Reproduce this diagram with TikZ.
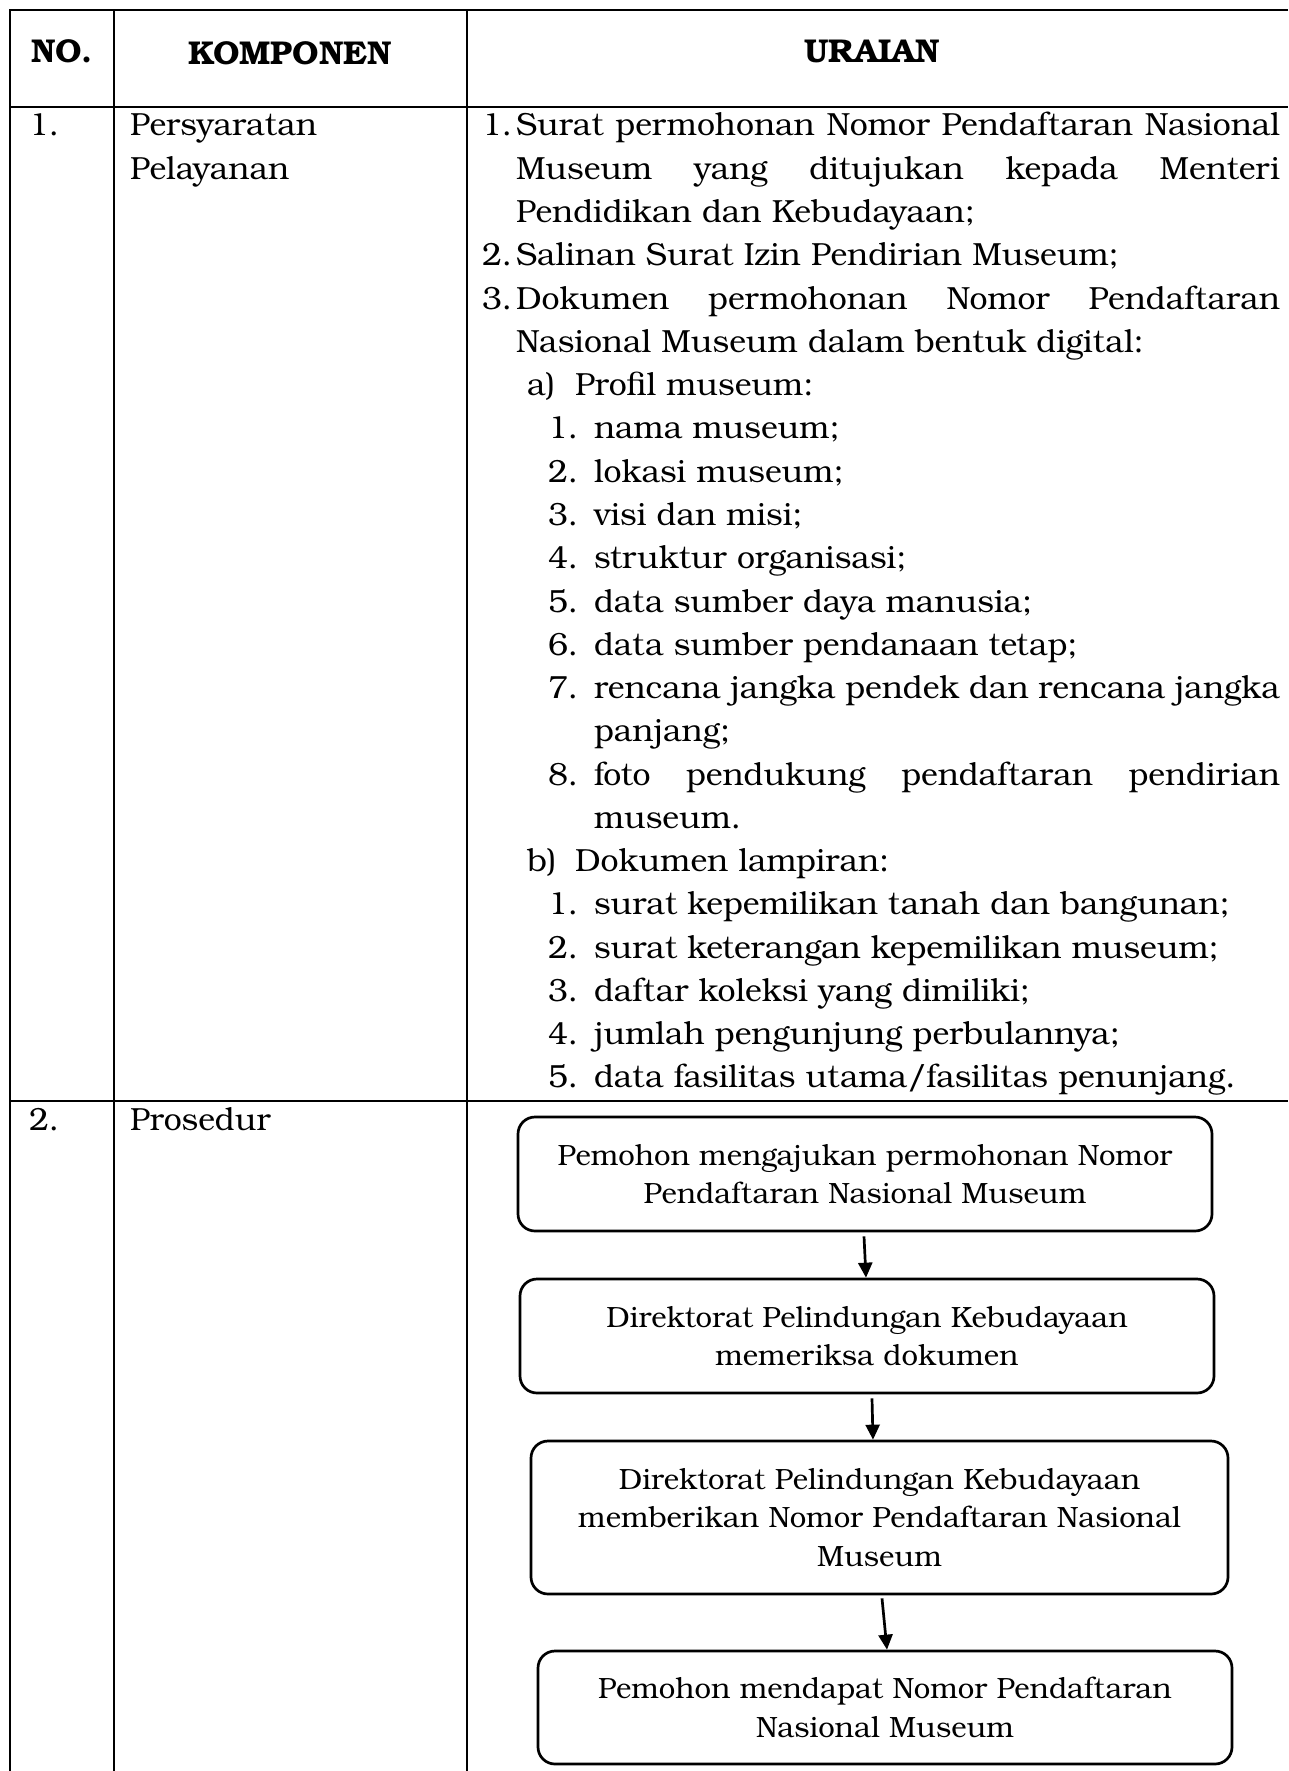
\documentclass[tikz,border=0pt]{standalone}
\usepackage{fontspec}
\setmainfont{texgyrebonum-regular.otf}[BoldFont=texgyrebonum-bold.otf]
\usetikzlibrary{arrows.meta}
\newcommand\bodyfnt{\fontsize{32}{40}\selectfont}
\newcommand\boxfnt{\fontsize{29.3}{38.5}\selectfont}
\newcommand\hdrfnt{\fontsize{33}{36}\selectfont\bfseries}
\tikzset{
  txt/.style={anchor=base west, inner sep=0pt, outer sep=0pt, font=\bodyfnt},
  hdr/.style={anchor=base, inner sep=0pt, font=\hdrfnt},
  rule/.style={line width=2.7pt},
  stepbox/.style={draw, line width=2.7pt, rounded corners=17pt, align=center, font=\boxfnt, inner sep=0pt},
  arr/.style={line width=2.7pt, -{Triangle[length=15pt,width=14pt]}}
}
\begin{document}
\begin{tikzpicture}[x=1pt,y=-1pt]
\useasboundingbox (0,0) rectangle (1288,1771);
% table rules
\draw[rule] (1288,10) -- (10,10) -- (10,1771);
\draw[rule] (114,10) -- (114,1771);
\draw[rule] (467,10) -- (467,1771);
\draw[rule] (10,107) -- (1288,107);
\draw[rule] (10,1101) -- (1288,1101);
% header
\node[hdr] (hno) at (62,63) {NO.};
\node[hdr] (hkomp) at (290,65) {KOMPONEN};
\node[hdr] (hur) at (872,63) {URAIAN};
% row 1
\node[txt] (r1no) at (29,136) {1.};
\node[txt] (r1k1) at (130,136) {Persyaratan};
\node[txt] (r1k2) at (130,179.3) {Pelayanan};
\node[txt] (n1) at (482,136) {1.};
\node[txt] (t1) at (516,136) {\makebox[764pt][s]{Surat permohonan Nomor Pendaftaran Nasional}};
\node[txt] (t2) at (516,179.3) {\makebox[764pt][s]{Museum yang ditujukan kepada Menteri}};
\node[txt] (t3) at (516,222.5) {Pendidikan dan Kebudayaan;};
\node[txt] (n4) at (482,265.8) {2.};
\node[txt] (t4) at (516,265.8) {Salinan Surat Izin Pendirian Museum;};
\node[txt] (n5) at (482,309.1) {3.};
\node[txt] (t5) at (516,309.1) {\makebox[764pt][s]{Dokumen permohonan Nomor Pendaftaran}};
\node[txt] (t6) at (516,352.4) {Nasional Museum dalam bentuk digital:};
\node[txt] (n7) at (527,395.6) {a)};
\node[txt] (t7) at (575,395.6) {Profil museum:};
\node[txt] (n8) at (548,438.9) {1.};
\node[txt] (t8) at (594,438.9) {nama museum;};
\node[txt] (n9) at (548,482.2) {2.};
\node[txt] (t9) at (594,482.2) {lokasi museum;};
\node[txt] (n10) at (548,525.4) {3.};
\node[txt] (t10) at (594,525.4) {visi dan misi;};
\node[txt] (n11) at (548,568.7) {4.};
\node[txt] (t11) at (594,568.7) {struktur organisasi;};
\node[txt] (n12) at (548,612.0) {5.};
\node[txt] (t12) at (594,612.0) {data sumber daya manusia;};
\node[txt] (n13) at (548,655.2) {6.};
\node[txt] (t13) at (594,655.2) {data sumber pendanaan tetap;};
\node[txt] (n14) at (548,698.5) {7.};
\node[txt] (t14) at (594,698.5) {\makebox[686pt][s]{rencana jangka pendek dan rencana jangka}};
\node[txt] (t15) at (594,741.8) {panjang;};
\node[txt] (n16) at (548,785.1) {8.};
\node[txt] (t16) at (594,785.1) {\makebox[686pt][s]{foto pendukung pendaftaran pendirian}};
\node[txt] (t17) at (594,828.3) {museum.};
\node[txt] (n18) at (527,871.6) {b)};
\node[txt] (t18) at (575,871.6) {Dokumen lampiran:};
\node[txt] (n19) at (548,914.9) {1.};
\node[txt] (t19) at (594,914.9) {surat kepemilikan tanah dan bangunan;};
\node[txt] (n20) at (548,958.1) {2.};
\node[txt] (t20) at (594,958.1) {surat keterangan kepemilikan museum;};
\node[txt] (n21) at (548,1001.4) {3.};
\node[txt] (t21) at (594,1001.4) {daftar koleksi yang dimiliki;};
\node[txt] (n22) at (548,1044.7) {4.};
\node[txt] (t22) at (594,1044.7) {jumlah pengunjung perbulannya;};
\node[txt] (n23) at (548,1087.9) {5.};
\node[txt] (t23) at (594,1087.9) {data fasilitas utama/fasilitas penunjang.};
% row 2
\node[txt] (r2no) at (29,1130) {2.};
\node[txt] (r2k) at (130,1130) {Prosedur};
% flowchart
\node[stepbox, minimum width=694pt, minimum height=114pt] (b1) at (865,1174)
  {Pemohon mengajukan permohonan Nomor\\Pendaftaran Nasional Museum};
\node[stepbox, minimum width=694pt, minimum height=114pt] (b2) at (867,1336)
  {Direktorat Pelindungan Kebudayaan\\memeriksa dokumen};
\node[stepbox, minimum width=697pt, minimum height=153pt] (b3) at (879.5,1517.5)
  {Direktorat Pelindungan Kebudayaan\\memberikan Nomor Pendaftaran Nasional\\Museum};
\node[stepbox, minimum width=694pt, minimum height=113pt] (b4) at (885,1707.5)
  {Pemohon mendapat Nomor Pendaftaran\\Nasional Museum};
\draw[arr] ([xshift=-1pt,yshift=-4pt]b1.south) -- ([xshift=-1pt]b2.north);
\draw[arr] ([xshift=5pt,yshift=-4pt]b2.south) -- ([xshift=-6.5pt]b3.north);
\draw[arr] ([xshift=2.5pt,yshift=-3pt]b3.south) -- ([xshift=2pt]b4.north);
\end{tikzpicture}
\end{document}
